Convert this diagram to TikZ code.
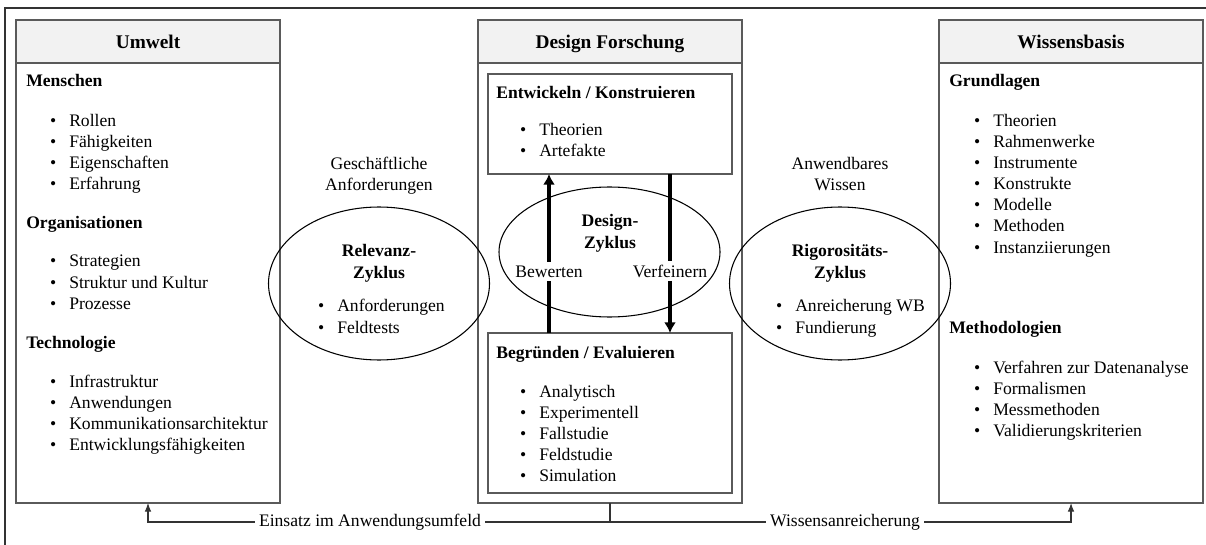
\documentclass[tikz,border=0pt]{standalone}
\usepackage{fontspec}
\setmainfont{Liberation Serif}
\usetikzlibrary{shapes.geometric,arrows.meta}
\definecolor{rahmen}{HTML}{5A5A5A}
\definecolor{kopfgrau}{HTML}{F2F2F2}
\tikzset{
  kasten/.style={draw=rahmen,line width=1.1pt,anchor=north west,inner sep=0,outer sep=0,minimum width=198pt},
  kopf/.style={kasten,fill=kopfgrau,minimum height=32.25pt},
  titel/.style={font=\fontsize{14.5}{17}\selectfont\bfseries,anchor=base,inner sep=0},
  fett/.style={font=\fontsize{13.2}{16}\selectfont\bfseries,anchor=base west,inner sep=0},
  zeile/.style={font=\fontsize{13.2}{16}\selectfont,anchor=base,inner sep=0},
  fettmitte/.style={zeile,font=\fontsize{13.2}{16}\selectfont\bfseries},
  punkt/.style={font=\fontsize{13.2}{16}\selectfont,anchor=base west,inner sep=0,
    execute at begin node={\llap{\textbullet\hspace{9.7pt}}}},
  zyklus/.style={draw,ellipse,inner sep=0,outer sep=0,line width=.8pt},
  dick/.style={line width=2.5pt},
  pfeil/.style={dick,-{Latex[length=8pt,width=9pt]}},
  fluss/.style={draw=black!80,line width=.8pt}
}
\begin{document}
\begin{tikzpicture}[x=0.75pt,y=-0.75pt,>={Latex[length=6.5pt,width=5pt]}]
\path[use as bounding box] (0,0) rectangle (1206,545);
\draw[black!80,line width=1.1pt] (5,545) -- (5,8) -- (1206,8);

\node[kasten,minimum height=362.25pt] (umwelt) at (16,20) {};
\node[kopf] (umweltkopf) at (16,20) {};
\node[kasten,minimum height=362.25pt] (design) at (478,20) {};
\node[kopf] (designkopf) at (478,20) {};
\node[kasten,minimum height=362.25pt] (wissen) at (939,20) {};
\node[kopf] (wissenkopf) at (939,20) {};
\node[titel] (umwelttitel) at (148,49) {Umwelt};
\node[titel] (designtitel) at (610,49) {Design Forschung};
\node[titel] (wissentitel) at (1071,49) {Wissensbasis};

\node[fett] (menschen) at (26,87) {Menschen};
\foreach \t [count=\i from 0] in {Rollen,Fähigkeiten,Eigenschaften,Erfahrung}
  \node[punkt] (mensch\i) at (69,127+21*\i) {\t};
\node[fett] (organisationen) at (26,229) {Organisationen};
\foreach \t [count=\i from 0] in {Strategien,Struktur und Kultur,Prozesse}
  \node[punkt] (org\i) at (69,267+21*\i) {\t};
\node[fett] (technologie) at (26,348) {Technologie};
\foreach \t [count=\i from 0] in {Infrastruktur,Anwendungen,Kommunikationsarchitektur,Entwicklungsfähigkeiten}
  \node[punkt] (tech\i) at (69,387+21*\i) {\t};

\node[kasten,minimum width=183pt,minimum height=75pt] (entwickeln) at (488,74) {};
\node[kasten,minimum width=183pt,minimum height=120pt] (begruenden) at (488,333) {};
\node[fett] (entwtitel) at (496,99) {Entwickeln / Konstruieren};
\foreach \t [count=\i from 0] in {Theorien,Artefakte}
  \node[punkt] (entw\i) at (539,136+21*\i) {\t};
\node[fett] (begrtitel) at (496,358) {Begründen / Evaluieren};
\foreach \t [count=\i from 0] in {Analytisch,Experimentell,Fallstudie,Feldstudie,Simulation}
  \node[punkt] (begr\i) at (539,397+21*\i) {\t};

\node[fett] (grundlagen) at (949,87) {Grundlagen};
\foreach \t [count=\i from 0] in {Theorien,Rahmenwerke,Instrumente,Konstrukte,Modelle,Methoden,Instanziierungen}
  \node[punkt] (grund\i) at (993,127+21*\i) {\t};
\node[fett] (methodologien) at (949,333) {Methodologien};
\foreach \t [count=\i from 0] in {Verfahren zur Datenanalyse,Formalismen,Messmethoden,Validierungskriterien}
  \node[punkt] (meth\i) at (993,373+21*\i) {\t};

\node[zeile] (geschaeft) at (379,170) {Geschäftliche};
\node[zeile] (anforderung) at (379,191) {Anforderungen};
\node[zeile] (anwendbar) at (840,170) {Anwendbares};
\node[zeile] (wissenstext) at (840,191) {Wissen};

\node[zyklus,minimum width=165.75pt,minimum height=114.75pt] (relevanz) at (379,283.5) {};
\node[zyklus,minimum width=165.75pt,minimum height=97.5pt] (designzyklus) at (609.5,252) {};
\node[zyklus,minimum width=165.75pt,minimum height=114.75pt] (rigoros) at (840,283.5) {};
\node[fettmitte] (relevanzA) at (379,257) {Relevanz-};
\node[fettmitte] (relevanzB) at (379,278) {Zyklus};
\foreach \t [count=\i from 0] in {Anforderungen,Feldtests}
  \node[punkt] (rel\i) at (337,311+22*\i) {\t};
\node[fettmitte] (designA) at (610,227) {Design-};
\node[fettmitte] (designB) at (610,248) {Zyklus};
\node[fettmitte] (rigorosA) at (840,257) {Rigorositäts-};
\node[fettmitte] (rigorosB) at (840,278) {Zyklus};
\foreach \t [count=\i from 0] in {Anreicherung WB,Fundierung}
  \node[punkt] (rig\i) at (795,311+22*\i) {\t};

\node[zeile,inner sep=2.5pt] (bewerten) at (549,277) {Bewerten};
\node[zeile,inner sep=2.5pt] (verfeinern) at (670,277) {Verfeinern};
\draw[dick] (bewerten |- begruenden.north) -- (bewerten.south);
\draw[pfeil] (bewerten.north) -- (bewerten |- entwickeln.south);
\draw[dick] (verfeinern |- entwickeln.south) -- (verfeinern.north);
\draw[pfeil] (verfeinern.south) -- (verfeinern |- begruenden.north);

\coordinate (knoten) at (610,522);
\node[zeile,anchor=center,inner sep=3pt] (einsatz) at (370,522) {Einsatz im Anwendungsumfeld};
\node[zeile,anchor=center,inner sep=3pt] (anreicherung) at (845,522) {Wissensanreicherung};
\draw[fluss] (design.south) -- (knoten);
\draw[fluss] (knoten) -- (einsatz.east);
\draw[fluss,->] (einsatz.west) -- (umwelt.south |- knoten) -- (umwelt.south);
\draw[fluss] (knoten) -- (anreicherung.west);
\draw[fluss,->] (anreicherung.east) -- (wissen.south |- knoten) -- (wissen.south);
\end{tikzpicture}
\end{document}
